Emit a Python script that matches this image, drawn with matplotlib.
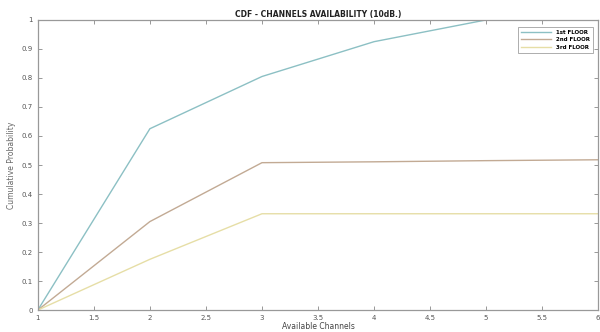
import numpy as np
import matplotlib
matplotlib.use("Agg")
import matplotlib.pyplot as plt

# channels available and CDF values per floor
channels = [1, 2, 3, 4, 5, 6]
floor1 = [0.0, 0.625, 0.805, 0.925, 1.0, 1.0]
floor2 = [0.0, 0.305, 0.508, 0.511, 0.515, 0.518]
floor3 = [0.0, 0.175, 0.332, 0.332, 0.332, 0.332]
labels = ["1st FLOOR", "2nd FLOOR", "3rd FLOOR"]

fig = plt.figure(figsize=(6, 3.32), dpi=100)
ax = fig.add_axes([0.063, 0.066, 0.934, 0.874])

ax.plot(channels, floor1, color="#8cc0c4", lw=1.0, label=labels[0])
ax.plot(channels, floor2, color="#c2aa94", lw=1.0, label=labels[1])
ax.plot(channels, floor3, color="#e6dea6", lw=1.0, label=labels[2])

ax.set_xlim(1, 6)
ax.set_ylim(0, 1)
ax.set_xticks(np.arange(1, 6.01, 0.5))
ax.set_xticklabels(["1", "1.5", "2", "2.5", "3", "3.5", "4", "4.5", "5", "5.5", "6"])
ax.set_yticks(np.arange(0, 1.01, 0.1))
ax.set_yticklabels(["0", "0.1", "0.2", "0.3", "0.4", "0.5", "0.6", "0.7", "0.8", "0.9", "1"])
ax.tick_params(direction="in", length=3, width=0.6, colors="#888888",
               labelsize=5, labelcolor="#555555", top=True, right=True)
for s in ax.spines.values():
    s.set_color("#999999")
    s.set_linewidth(0.9)

ax.set_title("CDF - CHANNELS AVAILABILITY (10dB.)", fontsize=5.5, fontweight="bold",
             color="#222222", pad=2)
ax.set_xlabel("Available Channels", fontsize=5.5, color="#444444", labelpad=1)
ax.set_ylabel("Cumulative Probability", fontsize=5.5, color="#666666", labelpad=4)

leg = ax.legend(loc="upper right", fontsize=4, frameon=True, fancybox=False,
                handlelength=5.5, borderpad=0.5, labelspacing=0.45,
                bbox_to_anchor=(0.995, 0.985))
leg.get_frame().set_edgecolor("#888888")
leg.get_frame().set_linewidth(0.6)
for t in leg.get_texts():
    t.set_fontweight("bold")

fig.savefig("out.png", dpi=100)
